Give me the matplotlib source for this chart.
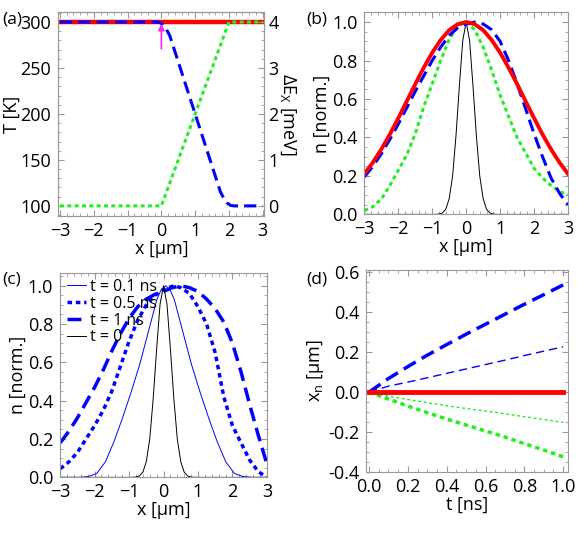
import numpy as np
import matplotlib
matplotlib.use("Agg")
import matplotlib.pyplot as plt
from matplotlib.ticker import MultipleLocator, AutoMinorLocator

plt.rcParams['font.family'] = ['Open Sans', 'DejaVu Sans']
plt.rcParams['mathtext.default'] = 'regular'
plt.rcParams['mathtext.fontset'] = 'custom'
plt.rcParams['mathtext.rm'] = 'Open Sans'
plt.rcParams['font.size'] = 13

# ---- data ----
# (a) temperature / energy profiles
xa_red = [-3.0, 3.0]
Ta_red = [300, 300]
xa_blue = [-3.0, -0.15, -0.05, 0.05, 0.15, 0.25, 1.75, 1.85, 1.95, 2.05, 2.15, 3.0]
Ta_blue = [300, 300, 299.5, 297, 292, 285, 115, 108, 103, 100.5, 100, 100]
xa_green = [-3.0, 0.0, 2.0, 3.0]
dE_green = [0, 0, 4, 4]

# (b) normalized densities
xb = [-3.0, -2.75, -2.5, -2.25, -2.0, -1.75, -1.5, -1.25, -1.0, -0.75, -0.5, -0.25,
      0.0, 0.25, 0.5, 0.75, 1.0, 1.25, 1.5, 1.75, 2.0, 2.25, 2.5, 2.75, 3.0]
nb_red = [0.211, 0.270, 0.339, 0.416, 0.501, 0.589, 0.678, 0.763, 0.841, 0.907, 0.958, 0.989,
          1.0, 0.989, 0.958, 0.907, 0.841, 0.763, 0.678, 0.589, 0.501, 0.416, 0.339, 0.270, 0.211]
nb_blue = [0.195, 0.25, 0.315, 0.39, 0.47, 0.555, 0.64, 0.72, 0.80, 0.87, 0.93, 0.97,
           0.99, 1.0, 0.99, 0.96, 0.90, 0.80, 0.68, 0.55, 0.42, 0.30, 0.19, 0.11, 0.05]
nb_green = [0.02, 0.04, 0.08, 0.15, 0.23, 0.31, 0.42, 0.56, 0.68, 0.80, 0.91, 0.98,
            1.0, 0.96, 0.87, 0.75, 0.62, 0.51, 0.40, 0.32, 0.24, 0.19, 0.15, 0.12, 0.10]

# initial profile t = 0 (panels b and c)
x0 = [-3.0, -1.0, -0.9, -0.8, -0.7, -0.6, -0.5, -0.4, -0.3, -0.2, -0.1, 0.0,
      0.1, 0.2, 0.3, 0.4, 0.5, 0.6, 0.7, 0.8, 0.9, 1.0, 3.0]
n0 = [0, 0, 0.0003, 0.0017, 0.0074, 0.027, 0.082, 0.20, 0.41, 0.67, 0.905, 1.0,
      0.905, 0.67, 0.41, 0.20, 0.082, 0.027, 0.0074, 0.0017, 0.0003, 0, 0]

# (c) time evolution
xc1 = [-3.0, -2.44, -2.19, -1.94, -1.69, -1.44, -1.19, -0.94, -0.69, -0.44, -0.19, -0.065,
       0.06, 0.185, 0.31, 0.56, 0.81, 1.06, 1.31, 1.56, 1.81, 2.06, 2.31, 2.56, 3.0]
nc1 = [0, 0, 0.004, 0.02, 0.08, 0.185, 0.31, 0.445, 0.59, 0.76, 0.93, 0.98,
       1.0, 0.98, 0.93, 0.76, 0.59, 0.445, 0.31, 0.185, 0.08, 0.02, 0.004, 0, 0]
xc5 = [-3.0, -2.75, -2.5, -2.25, -2.0, -1.75, -1.5, -1.25, -1.0, -0.75, -0.5, -0.25,
       0.0, 0.3, 0.5, 0.75, 1.0, 1.25, 1.5, 1.75, 2.0, 2.25, 2.5, 2.75, 3.0]
nc5 = [0.045, 0.08, 0.13, 0.20, 0.27, 0.35, 0.45, 0.58, 0.71, 0.82, 0.90, 0.95,
       0.98, 1.0, 0.99, 0.96, 0.89, 0.80, 0.65, 0.42, 0.27, 0.18, 0.09, 0.03, 0.0]
xc10 = [-3.0, -2.75, -2.5, -2.25, -2.0, -1.75, -1.5, -1.25, -1.0, -0.75, -0.5, -0.25,
        0.0, 0.25, 0.5, 0.75, 1.0, 1.25, 1.5, 1.75, 2.0, 2.25, 2.5, 2.75, 3.0]
nc10 = [0.18, 0.24, 0.31, 0.39, 0.47, 0.56, 0.66, 0.75, 0.83, 0.89, 0.93, 0.955,
        0.97, 0.99, 1.0, 0.99, 0.97, 0.93, 0.88, 0.81, 0.70, 0.55, 0.38, 0.22, 0.07]

# (d) centre of mass vs time
td = [0.0, 0.1, 0.2, 0.3, 0.4, 0.5, 0.6, 0.7, 0.8, 0.9, 1.0]
xd_blue_thick = [0, 0.068, 0.128, 0.185, 0.238, 0.29, 0.34, 0.39, 0.44, 0.488, 0.537]
xd_blue_thin = [0, 0.03, 0.05, 0.072, 0.094, 0.116, 0.138, 0.16, 0.183, 0.205, 0.227]
xd_red = [0, 0, 0, 0, 0, 0, 0, 0, 0, 0, 0]
xd_green_thin = [0, -0.02, -0.037, -0.053, -0.068, -0.082, -0.095, -0.109, -0.123, -0.137, -0.152]
xd_green_thick = [0, -0.035, -0.07, -0.103, -0.135, -0.165, -0.195, -0.225, -0.258, -0.29, -0.324]

RED = '#ff0000'
BLUE = '#0000ff'
GREEN = '#22ee22'
FRAME = '#999999'
DASH = (4, 2)
DOT = (1.3, 1.1)


def style_axes(ax, right=True):
    for s in ax.spines.values():
        s.set_color(FRAME)
    ax.tick_params(which='both', direction='in', top=True, right=right,
                   color=FRAME, labelsize=13)
    ax.tick_params(axis='x', which='both', pad=4)
    ax.tick_params(axis='y', which='both', pad=5)
    ax.tick_params(which='major', length=4)
    ax.tick_params(which='minor', length=2)


fig = plt.figure(figsize=(5.84, 5.40), dpi=100)

# ---- (a) ----
ax = fig.add_axes([0.0998, 0.600, 0.353, 0.378])
ax.plot(xa_red, Ta_red, color=RED, lw=3.2)
ax.plot(xa_blue, Ta_blue, color=BLUE, lw=2.2, dashes=DASH)
ax.set_xlim(-3.05, 3.05)
ax.set_ylim(89, 311)
ax.xaxis.set_major_locator(MultipleLocator(1))
ax.xaxis.set_minor_locator(AutoMinorLocator(5))
ax.yaxis.set_major_locator(MultipleLocator(50))
ax.yaxis.set_minor_locator(AutoMinorLocator(5))
style_axes(ax, right=False)
ax.set_xlabel('x [µm]', labelpad=0)
ax.set_ylabel('T [K]', labelpad=0)
ax.annotate('', xy=(0, 298), xytext=(0, 271),
            arrowprops=dict(arrowstyle='-|>', color='#ff22ff', lw=1.2,
                            mutation_scale=9, shrinkA=0, shrinkB=0))
ax2 = ax.twinx()
ax2.plot(xa_green, dE_green, color=GREEN, lw=2.2, dashes=DOT)
ax2.set_ylim(-0.22, 4.22)
ax2.yaxis.set_major_locator(MultipleLocator(1))
ax2.yaxis.set_minor_locator(AutoMinorLocator(5))
for s in ax2.spines.values():
    s.set_color(FRAME)
ax2.tick_params(which='both', direction='in', color=FRAME, labelsize=13, pad=3)
ax2.tick_params(which='major', length=4)
ax2.tick_params(which='minor', length=2)
ax2.set_ylabel(r'$\Delta$E$_X$ [meV]', rotation=270, labelpad=13)
fig.text(0.004, 0.978, '(a)', fontsize=12.5, va='top')

# ---- (b) ----
ax = fig.add_axes([0.624, 0.603, 0.3485, 0.374])
ax.plot(x0, n0, color='black', lw=0.7)
ax.plot(xb, nb_green, color=GREEN, lw=2.2, dashes=DOT)
ax.plot(xb, nb_blue, color=BLUE, lw=2.2, dashes=DASH)
ax.plot(xb, nb_red, color=RED, lw=2.8)
ax.set_xlim(-3, 3)
ax.set_ylim(0, 1.05)
ax.xaxis.set_major_locator(MultipleLocator(1))
ax.xaxis.set_minor_locator(AutoMinorLocator(5))
ax.yaxis.set_major_locator(MultipleLocator(0.2))
ax.yaxis.set_minor_locator(AutoMinorLocator(4))
ax.yaxis.set_major_formatter(lambda v, p: f'{v:.1f}')
style_axes(ax)
ax.set_xlabel('x [µm]', labelpad=0)
ax.set_ylabel('n [norm.]', labelpad=1)
fig.text(0.525, 0.978, '(b)', fontsize=12.5, va='top')

# ---- (c) ----
ax = fig.add_axes([0.103, 0.116, 0.354, 0.379])
ax.plot(xc1, nc1, color=BLUE, lw=0.7, label='t = 0.1 ns')
ax.plot(xc5, nc5, color=BLUE, lw=2.5, dashes=DOT, label='t = 0.5 ns')
ax.plot(xc10, nc10, color=BLUE, lw=2.5, dashes=DASH, label='t = 1 ns')
ax.plot(x0, n0, color='black', lw=0.7, label='t = 0')
ax.set_xlim(-3, 3)
ax.set_ylim(0, 1.068)
ax.xaxis.set_major_locator(MultipleLocator(1))
ax.xaxis.set_minor_locator(AutoMinorLocator(5))
ax.yaxis.set_major_locator(MultipleLocator(0.2))
ax.yaxis.set_minor_locator(AutoMinorLocator(4))
ax.yaxis.set_major_formatter(lambda v, p: f'{v:.1f}')
style_axes(ax)
ax.set_xlabel('x [µm]', labelpad=0)
ax.set_ylabel('n [norm.]', labelpad=1)
ax.legend(loc='upper left', frameon=False, fontsize=11.5, handlelength=1.2,
          handletextpad=0.3, labelspacing=0.05, borderaxespad=0.3,
          borderpad=0.1)
fig.text(0.004, 0.497, '(c)', fontsize=12.5, va='top')

# ---- (d) ----
ax = fig.add_axes([0.627, 0.126, 0.3456, 0.3734])
ax.plot(td, xd_green_thin, color=GREEN, lw=1.0, dashes=(2, 2))
ax.plot(td, xd_green_thick, color=GREEN, lw=2.5, dashes=DOT)
ax.plot(td, xd_blue_thin, color=BLUE, lw=1.0, dashes=(6, 3.5))
ax.plot(td, xd_blue_thick, color=BLUE, lw=2.5, dashes=DASH)
ax.plot(td, xd_red, color=RED, lw=3.5)
ax.set_xlim(-0.015, 1.025)
ax.set_ylim(-0.4, 0.61)
ax.xaxis.set_major_locator(MultipleLocator(0.2))
ax.xaxis.set_minor_locator(AutoMinorLocator(4))
ax.yaxis.set_major_locator(MultipleLocator(0.2))
ax.yaxis.set_minor_locator(AutoMinorLocator(4))
ax.xaxis.set_major_formatter(lambda v, p: f'{v:.1f}')
ax.yaxis.set_major_formatter(lambda v, p: f'{v:.1f}')
style_axes(ax)
ax.set_xlabel('t [ns]', labelpad=0)
ax.set_ylabel('x$_n$ [µm]', labelpad=1)
fig.text(0.525, 0.497, '(d)', fontsize=12.5, va='top')

fig.savefig('out.png', dpi=100)
